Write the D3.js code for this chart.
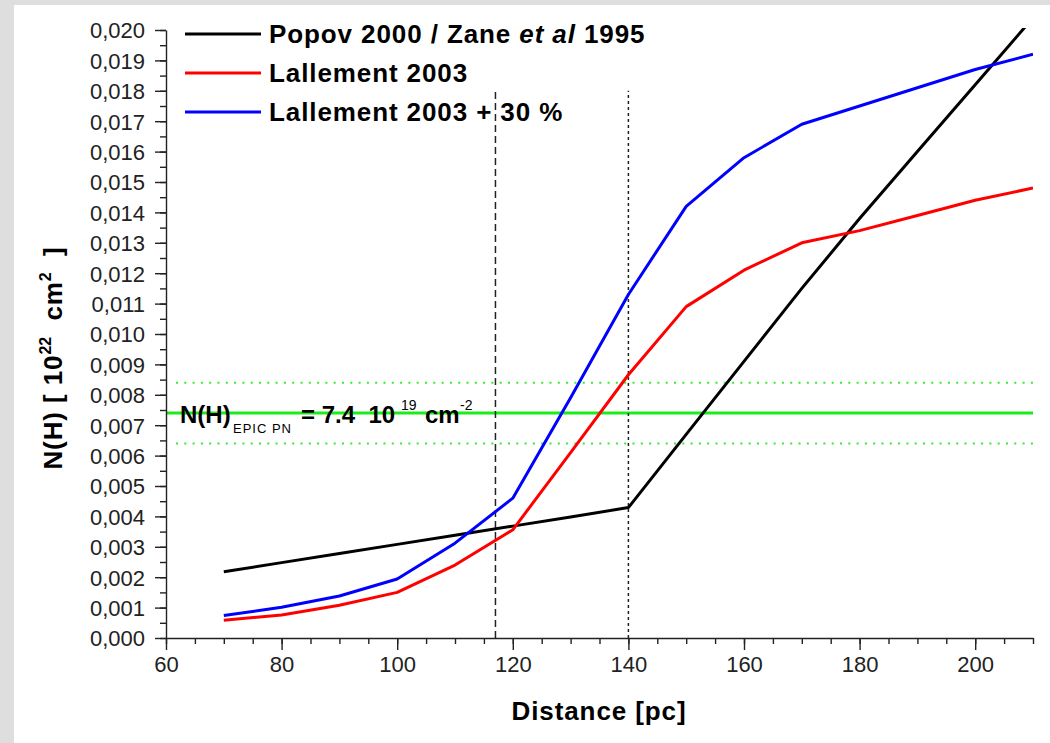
<!DOCTYPE html>
<html>
<head>
<meta charset="utf-8">
<script src="https://cdn.jsdelivr.net/npm/d3@7"></script>
<style>
  html, body { margin: 0; padding: 0; background: #dedede; }
  svg { display: block; }
  text { font-family: "Liberation Sans", Arial, sans-serif; white-space: pre; }
</style>
</head>
<body>
<script>
// Column density of hydrogen versus distance
const distance    = [70, 80, 90, 100, 110, 120, 130, 140, 150, 160, 170, 180, 190, 200, 210];
const popovZane   = [0.00218, 0.00248, 0.00278, 0.00308, 0.00338, 0.00368, 0.00398, 0.00429,
                     0.0067, 0.0091, 0.0115, 0.0138, 0.0160, 0.0182, 0.0204];
const lallement   = [0.00058, 0.00076, 0.00108, 0.00150, 0.00240, 0.00356, 0.0061, 0.00866,
                     0.0109, 0.0121, 0.0130, 0.0134, 0.0139, 0.0144, 0.0148];
const lallement30 = [0.00074, 0.00101, 0.00138, 0.00194, 0.00312, 0.0046, 0.0079, 0.0113,
                     0.0142, 0.0158, 0.0169, 0.0175, 0.0181, 0.0187, 0.0192];

const seriesNames  = ["Popov 2000 / Zane et al 1995", "Lallement 2003", "Lallement 2003 + 30 %"];
const seriesColors = ["#000000", "#ff0000", "#0000ff"];

const xMajorTicks = [60, 80, 100, 120, 140, 160, 180, 200];
const xMinorTicks = d3.range(60, 211, 5);
const yMajorTicks = d3.range(0, 21).map(i => i / 1000);
const yMinorTicks = d3.range(0, 41).map(i => i / 2000);

// EPIC PN column density and its range, and the two reference distances
const nhEpic      = 0.0074;
const nhEpicRange = [0.0064, 0.0084];
const distDashed  = 117;
const distDotted  = 140;
const refTop      = 0.018;

const W = 1050, H = 743;
const svg = d3.select("body").append("svg").attr("width", W).attr("height", H);

// white sheet over the grey page
svg.append("rect").attr("x", 14).attr("y", 5).attr("width", W - 14).attr("height", H - 5).attr("fill", "#ffffff");

const x = d3.scaleLinear().domain([60, 210]).range([166, 1033]);
const y = d3.scaleLinear().domain([0, 0.020]).range([638, 30]);

svg.append("defs").append("clipPath").attr("id", "plotClip")
  .append("rect").attr("x", x(60)).attr("y", y(0.020) - 2)
  .attr("width", x(210) - x(60)).attr("height", y(0) - y(0.020) + 2);

const axisColor = "#222";
const fmt = d => d3.format(".3f")(d).replace(".", ",");

// reference lines
const refG = svg.append("g");
refG.append("line")
  .attr("x1", x(60)).attr("x2", x(210)).attr("y1", y(nhEpic)).attr("y2", y(nhEpic))
  .attr("stroke", "#1aee1a").attr("stroke-width", 3);
nhEpicRange.forEach(v => {
  refG.append("line")
    .attr("x1", x(60) + 10).attr("x2", x(210)).attr("y1", y(v)).attr("y2", y(v))
    .attr("stroke", "#33ee33").attr("stroke-width", 2).attr("stroke-dasharray", "2,6.3");
});
refG.append("line")
  .attr("x1", x(distDashed)).attr("x2", x(distDashed)).attr("y1", y(0)).attr("y2", y(refTop))
  .attr("stroke", "#222").attr("stroke-width", 1.5).attr("stroke-dasharray", "7,4");
refG.append("line")
  .attr("x1", x(distDotted)).attr("x2", x(distDotted)).attr("y1", y(0)).attr("y2", y(refTop))
  .attr("stroke", "#222").attr("stroke-width", 1.5).attr("stroke-dasharray", "3,3");

// series
const line = d3.line().x(d => x(d[0])).y(d => y(d[1]));
const seriesValues = [popovZane, lallement, lallement30];
const linesG = svg.append("g").attr("clip-path", "url(#plotClip)");
seriesValues.forEach((vals, i) => {
  linesG.append("path")
    .datum(distance.map((d, j) => [d, vals[j]]))
    .attr("fill", "none")
    .attr("stroke", seriesColors[i])
    .attr("stroke-width", 3)
    .attr("stroke-linejoin", "round")
    .attr("d", line);
});

// axes
function styleAxis(g) {
  g.selectAll("path.domain").attr("stroke", axisColor).attr("stroke-width", 1.4);
  g.selectAll(".tick line").attr("stroke", axisColor).attr("stroke-width", 1.4);
  g.selectAll(".tick text").attr("fill", "#222").style("font-size", "22px")
    .style("font-family", "'Liberation Sans', Arial, sans-serif");
}

const yMinor = svg.append("g").attr("transform", `translate(${x(60)},0)`)
  .call(d3.axisLeft(y).tickValues(yMinorTicks).tickSize(6).tickFormat(""));
yMinor.select("path.domain").remove();
styleAxis(yMinor);

const yAxis = svg.append("g").attr("transform", `translate(${x(60)},0)`)
  .call(d3.axisLeft(y).tickValues(yMajorTicks).tickSize(11).tickSizeOuter(0).tickPadding(10).tickFormat(fmt));
styleAxis(yAxis);
yAxis.selectAll(".tick text").attr("dy", "0.36em");

const xMinor = svg.append("g").attr("transform", `translate(0,${y(0)})`)
  .call(d3.axisBottom(x).tickValues(xMinorTicks).tickSize(6).tickFormat(""));
xMinor.select("path.domain").remove();
styleAxis(xMinor);

const xAxis = svg.append("g").attr("transform", `translate(0,${y(0)})`)
  .call(d3.axisBottom(x).tickValues(xMajorTicks).tickSize(12).tickSizeOuter(0).tickPadding(6).tickFormat(d3.format("d")));
styleAxis(xAxis);

// axis titles
const boldStyle = sel => sel.attr("font-weight", "bold").style("font-size", "26px").style("letter-spacing", "0.9px").attr("fill", "#000");

svg.append("text").call(boldStyle)
  .attr("x", 599).attr("y", 720).attr("text-anchor", "middle")
  .text("Distance [pc]");

const yTitle = svg.append("text").call(boldStyle)
  .attr("transform", "translate(62,358) rotate(-90)")
  .attr("text-anchor", "middle");
yTitle.append("tspan").text("N(H) [ 10");
yTitle.append("tspan").attr("dy", -11).style("font-size", "16px").style("letter-spacing", "0px").text("22");
yTitle.append("tspan").attr("dy", 11).text("  cm");
yTitle.append("tspan").attr("dy", -11).style("font-size", "16px").style("letter-spacing", "0px").text("2");
yTitle.append("tspan").attr("dy", 11).text("  ]");

// legend
const legend = svg.append("g");
const legendRows = [34, 73, 112];
seriesNames.forEach((name, i) => {
  const ly = legendRows[i];
  legend.append("line")
    .attr("x1", 185).attr("x2", 261).attr("y1", ly).attr("y2", ly)
    .attr("stroke", seriesColors[i]).attr("stroke-width", 3);
  const t = legend.append("text").call(boldStyle).attr("x", 269).attr("y", ly + 9);
  if (i === 0) {
    t.append("tspan").text("Popov 2000 / Zane ");
    t.append("tspan").attr("font-style", "italic").text("et al");
    t.append("tspan").text(" 1995");
  } else {
    t.text(name);
  }
});

// EPIC PN annotation
const ann = svg.append("text").attr("fill", "#000").attr("font-weight", "bold").style("font-size", "24px");
ann.append("tspan").attr("x", 180).attr("y", 423).text("N(H)");
ann.append("tspan").attr("x", 233).attr("y", 433).attr("font-weight", "normal").style("font-size", "13px").style("letter-spacing", "1px").text("EPIC PN");
ann.append("tspan").attr("x", 301).attr("y", 423).text("= 7.4  10");
ann.append("tspan").attr("x", 401).attr("y", 410).attr("font-weight", "normal").style("font-size", "14px").text("19");
ann.append("tspan").attr("x", 425).attr("y", 423).text("cm");
ann.append("tspan").attr("x", 460).attr("y", 410).attr("font-weight", "normal").style("font-size", "14px").text("-2");
</script>
</body>
</html>
